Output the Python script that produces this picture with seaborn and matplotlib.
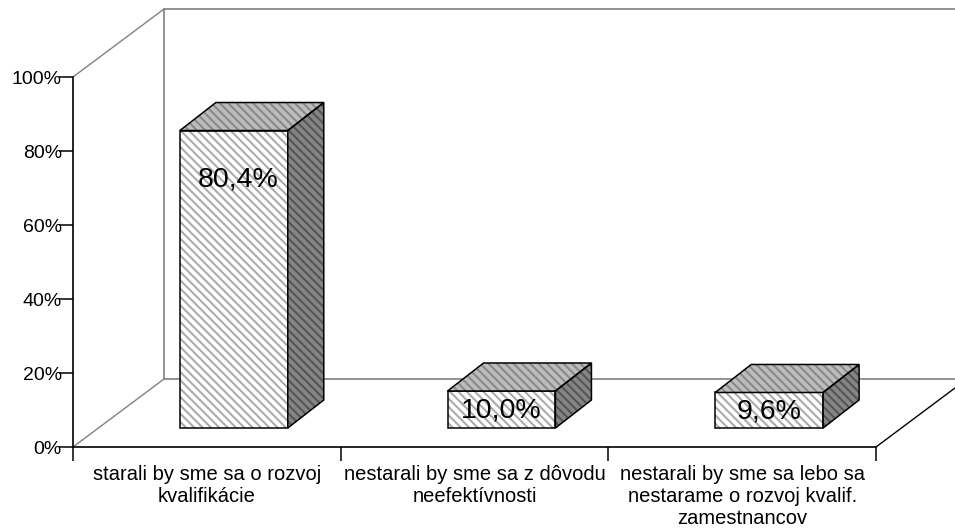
import numpy as np
import pandas as pd
import seaborn as sns
import matplotlib
matplotlib.use('Agg')
import matplotlib.pyplot as plt
from matplotlib.patches import Polygon
from matplotlib.transforms import Affine2D, IdentityTransform

# values
categories = ['starali by sme sa o rozvoj\nkvalifikácie',
              'nestarali by sme sa z dôvodu\nneefektívnosti',
              'nestarali by sme sa lebo sa\nnestarame o rozvoj kvalif.\nzamestnancov']
values = [80.4, 10.0, 9.6]
labels = ['80,4%', '10,0%', '9,6%']
y_ticks = [0, 20, 40, 60, 80, 100]

sns.set_theme(style='white')
plt.rcParams['font.family'] = ['Liberation Sans', 'DejaVu Sans']
plt.rcParams['hatch.linewidth'] = 1.5

W, H = 955, 532
fig = plt.figure(figsize=(W / 100, H / 100), dpi=100)
ax = fig.add_axes([73 / W, (H - 447) / H, 803 / W, 370 / H])
ax.set_xlim(-0.5, 2.5)
ax.set_ylim(0, 100)

# pseudo 3d: offsets in pixels
wall_dx, wall_dy = 91, 68
bar_dx, bar_dy = 36, 28
bar_shift = 27
floor = 19 / 370 * 100
hatch = '\\' * 4

df = pd.DataFrame({'cat': categories, 'val': values})
sns.barplot(data=df, x='cat', y='val', ax=ax, color='white', saturation=1, width=0.403,
            bottom=floor, edgecolor='#ababab', hatch=hatch, linewidth=0, zorder=3)


def to_px(x, y):
    return ax.transData.transform((x, y))


def face(points, fc, hc, z):
    ax.add_patch(Polygon(points, closed=True, facecolor=fc, edgecolor=hc, hatch=hatch,
                         linewidth=0, transform=IdentityTransform(), clip_on=False, zorder=z))
    ax.add_patch(Polygon(points, closed=True, fill=False, edgecolor='black', linewidth=1.1,
                         transform=IdentityTransform(), clip_on=False, zorder=z + 0.1))


shift = Affine2D().translate(bar_shift, 0)
for patch, lab in zip(ax.patches, labels):
    patch.set_transform(ax.transData + shift)
    patch.set_clip_on(False)
    x0, x1 = patch.get_x(), patch.get_x() + patch.get_width()
    y0, y1 = patch.get_y(), patch.get_y() + patch.get_height()
    a = to_px(x0, y0) + (bar_shift, 0)
    b = to_px(x1, y0) + (bar_shift, 0)
    c = to_px(x1, y1) + (bar_shift, 0)
    d = to_px(x0, y1) + (bar_shift, 0)
    depth = np.array([bar_dx, bar_dy])
    ax.add_patch(Polygon([a, b, c, d], closed=True, fill=False, edgecolor='black', linewidth=1.1,
                         transform=IdentityTransform(), clip_on=False, zorder=4))
    face([d, c, c + depth, d + depth], '#bdbdbd', '#8a8a8a', 4)
    face([b, c, c + depth, b + depth], '#858585', '#555555', 4)
    # tall bar: label near the top, short bars: centred on the face
    if y1 - y0 > 30:
        tx, ty = (a[0] + b[0]) / 2 + 4, c[1] - 49
    else:
        tx, ty = (a[0] + b[0]) / 2, (b[1] + c[1]) / 2 - 1
    ax.text(tx, ty, lab, transform=IdentityTransform(), ha='center', va='center',
            fontsize=20.5, color='black', zorder=6)

# walls and floor
back = Affine2D().translate(wall_dx, wall_dy)
gray = '#808080'
ax.plot([-0.5, -0.5], [0, 100], color=gray, lw=1.2, transform=ax.transData + back, clip_on=False, zorder=1)
ax.plot([-0.5, 2.5], [100, 100], color=gray, lw=1.2, transform=ax.transData + back, clip_on=False, zorder=1)
ax.plot([-0.5, 2.5], [0, 0], color=gray, lw=1.2, transform=ax.transData + back, clip_on=False, zorder=1)
o0, o1, r0 = to_px(-0.5, 0), to_px(-0.5, 100), to_px(2.5, 0)
for p, col in ((o0, gray), (o1, gray), (r0, 'black')):
    ax.plot([p[0], p[0] + wall_dx], [p[1], p[1] + wall_dy], color=col, lw=1.0,
            transform=IdentityTransform(), clip_on=False, zorder=1)

ax.set_xlabel('')
ax.set_ylabel('')
ax.set_yticks(y_ticks)
ax.set_yticklabels([f'{t}%' for t in y_ticks])
ax.set_xticks([-0.5, 0.5, 1.5, 2.5])
ax.set_xticklabels([])
ax.set_xticks([0, 1, 2], labels=categories, minor=True)
ax.tick_params(axis='y', length=10, width=1.1, color='black', labelsize=14, labelcolor='black', pad=-2, left=True)
ax.tick_params(axis='x', which='major', length=10, width=1.1, color='black', bottom=True)
ax.tick_params(axis='x', which='minor', length=0, labelsize=14.5, labelcolor='black', pad=13)
for lab in ax.get_xticklabels(minor=True):
    lab.set_linespacing(1.2)

for side in ('top', 'right'):
    ax.spines[side].set_visible(False)
for side in ('left', 'bottom'):
    ax.spines[side].set_color('black')
    ax.spines[side].set_linewidth(1.2)
ax.patch.set_alpha(0)

fig.savefig('out.png', dpi=100)
